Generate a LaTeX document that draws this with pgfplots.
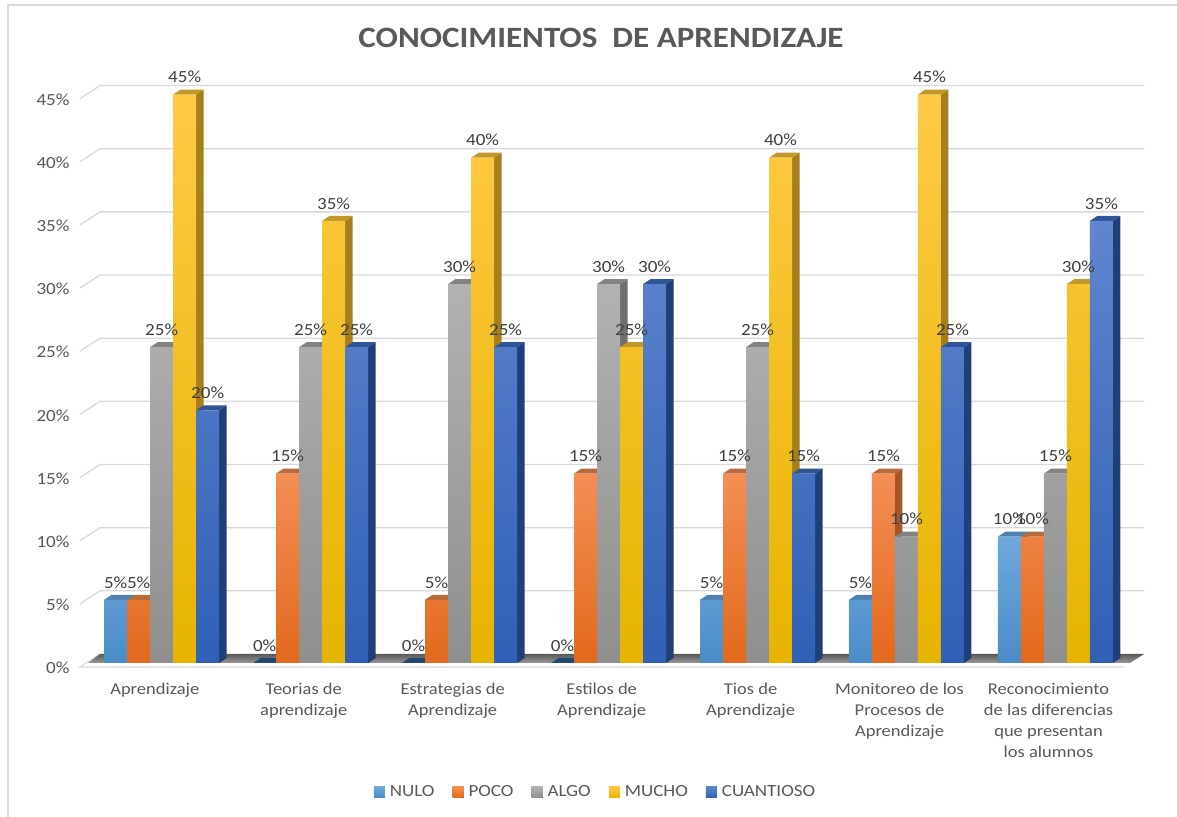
\documentclass[border=0pt]{standalone}
\usepackage{pgfplots}
\pgfplotsset{compat=1.18}
\usepackage{pgfplotstable}
\usepackage{fontspec}
\setmainfont[FakeStretch=1.12]{Carlito}
\definecolor{txt}{HTML}{595959}
\definecolor{lab}{HTML}{404040}
\definecolor{gridc}{HTML}{D9D9D9}
\definecolor{fA}{HTML}{5B9BD5}\definecolor{fB}{HTML}{F57C28}\definecolor{fC}{HTML}{A5A5A5}\definecolor{fD}{HTML}{FFC000}\definecolor{fE}{HTML}{4472C4}
\definecolor{tA}{HTML}{6FA8DE}\definecolor{tB}{HTML}{F48E55}\definecolor{tC}{HTML}{B2B2B2}\definecolor{tD}{HTML}{FFCA45}\definecolor{tE}{HTML}{5F85CF}
\definecolor{bA}{HTML}{4A8CC8}\definecolor{bB}{HTML}{E2691C}\definecolor{bC}{HTML}{8F8F8F}\definecolor{bD}{HTML}{E6B400}\definecolor{bE}{HTML}{2F60B5}
\definecolor{sA}{HTML}{3B6A96}\definecolor{sB}{HTML}{A5552A}\definecolor{sC}{HTML}{6F6F6F}\definecolor{sD}{HTML}{A67F1C}\definecolor{sE}{HTML}{1F3F78}
\definecolor{cA}{HTML}{4F80AE}\definecolor{cB}{HTML}{B96A3C}\definecolor{cC}{HTML}{828282}\definecolor{cD}{HTML}{C2982B}\definecolor{cE}{HTML}{2F5597}
\definecolor{sZ}{HTML}{23466E}\definecolor{cZ}{HTML}{23466E}
\pgfplotsset{sqlegend/.style={legend image code/.code={\fill[##1] (0pt,-5.5pt) rectangle (11pt,5.5pt);}}}
\pgfplotstableread{
g NULO POCO ALGO MUCHO CUANTIOSO
0 5 5 25 45 20
1 0 15 25 35 25
2 0 5 30 40 25
3 0 15 30 25 30
4 5 15 25 40 15
5 5 15 10 45 25
6 10 10 15 30 35
}\datatable
% depth faces of one bar: series, group, value, letter of the colours
\newcommand{\faces}[4]{%
  \pgfmathsetmacro\Lx{#2+(-50.6+23*#1)/148.95}%
  \pgfmathsetmacro\Rx{\Lx+23/148.95}%
  \pgfmathsetmacro\Dx{\Rx+7.5/148.95}%
  \pgfmathsetmacro\Ex{\Lx+7.5/148.95}%
  \pgfmathsetmacro\Tv{#3+0.396}%
  \addplot[forget plot,draw=none,fill=s#4] coordinates {(\Rx,0) (\Dx,0.396) (\Dx,\Tv) (\Rx,#3)} --cycle;
  \addplot[forget plot,draw=none,fill=c#4] coordinates {(\Lx,#3) (\Ex,\Tv) (\Dx,\Tv) (\Rx,#3)} --cycle;
}
\newcommand{\front}[3]{%
  \addplot[ybar,bar width=23pt,bar shift={#3pt},draw=none,
    top color=t#2,middle color=f#2,bottom color=b#2,
    sqlegend] table[x=g,y=#1] {\datatable};
}
\newcommand{\lbl}[2]{%
  \addplot[forget plot,draw=none,mark=none,
    nodes near coords={\pgfmathprintnumber[assume math mode=true]{\pgfplotspointmeta}\%},
    point meta=y,
    every node near coord/.style={anchor=center,yshift=17.5pt,font=\fontsize{17}{20}\selectfont,text=lab,inner sep=0pt}]
    table[x expr=\thisrow{g}+#2/148.95,y=#1] {\datatable};
}
\begin{document}
\begin{tikzpicture}[x=1pt,y=1pt]
\path[use as bounding box] (0,0) rectangle (1177,816);
\fill[white] (0,0) rectangle (1177,816);
\draw[gridc,line width=1.6pt] (8,-2) -- (8,816-5) -- (1177,816-5);
\node[font=\fontsize{29.5}{32}\selectfont\bfseries,text=txt] at (601,816-38) {CONOCIMIENTOS\ \ DE APRENDIZAJE};
\begin{axis}[
  at={(80pt,149pt)},anchor=south west,
  scale only axis,width=1064pt,height=582pt,
  xmin=-0.502,xmax=6.6413,ymin=-0.317,ymax=45.76,
  clip=false,
  axis line style={draw=none},
  major tick length=0pt,
  xtick={0,1,2,3,4,5,6},
  xticklabels={Aprendizaje,{Teorias de\\aprendizaje},{Estrategias de\\Aprendizaje},{Estilos de\\Aprendizaje},{Tios de\\Aprendizaje},{Monitoreo de los\\Procesos de\\Aprendizaje},{Reconocimiento\\de las diferencias\\que presentan\\los alumnos}},
  xticklabel style={align=center,font=\fontsize{16.5}{21}\selectfont,text=txt,yshift=-13pt},
  ytick={0,5,...,45},
  yticklabel={\pgfmathparse{int(\tick)}\pgfmathresult\%},
  yticklabel style={font=\fontsize{17}{20}\selectfont,text=txt,yshift=-5pt,xshift=-7pt},
  legend columns=5,
  legend style={at={(595.5pt-80pt,24pt-149pt)},anchor=center,draw=none,fill=none,font=\fontsize{17}{20}\selectfont,text=txt,
    /tikz/every odd column/.append style={column sep=3pt},
    /tikz/every even column/.append style={column sep=16pt}},
]
% grid: back wall and left-wall diagonals
\pgfplotsinvokeforeach{5,10,...,45}{
  \addplot[forget plot,gridc,line width=1.3pt] coordinates {(-0.502,#1-0.317) (-0.3677,#1+0.713) (6.6413,#1+0.713)};
}
\addplot[forget plot,gridc,line width=1.3pt] coordinates {(-0.3677,0.713) (-0.502,-0.317) (6.507,-0.317)};
% floor
\addplot[forget plot,draw=none,top color=black!65,bottom color=black!40] coordinates {(-0.4485,0) (-0.3677,0.713) (6.6413,0.713) (6.547,0)} --cycle;
% NULO
\faces{0}{0}{5}{A}\faces{0}{1}{0}{Z}\faces{0}{2}{0}{Z}\faces{0}{3}{0}{Z}\faces{0}{4}{5}{A}\faces{0}{5}{5}{A}\faces{0}{6}{10}{A}
\front{NULO}{A}{-39.1}
% POCO
\faces{1}{0}{5}{B}\faces{1}{1}{15}{B}\faces{1}{2}{5}{B}\faces{1}{3}{15}{B}\faces{1}{4}{15}{B}\faces{1}{5}{15}{B}\faces{1}{6}{10}{B}
\front{POCO}{B}{-16.1}
% ALGO
\faces{2}{0}{25}{C}\faces{2}{1}{25}{C}\faces{2}{2}{30}{C}\faces{2}{3}{30}{C}\faces{2}{4}{25}{C}\faces{2}{5}{10}{C}\faces{2}{6}{15}{C}
\front{ALGO}{C}{6.9}
% MUCHO
\faces{3}{0}{45}{D}\faces{3}{1}{35}{D}\faces{3}{2}{40}{D}\faces{3}{3}{25}{D}\faces{3}{4}{40}{D}\faces{3}{5}{45}{D}\faces{3}{6}{30}{D}
\front{MUCHO}{D}{29.9}
% CUANTIOSO
\faces{4}{0}{20}{E}\faces{4}{1}{25}{E}\faces{4}{2}{25}{E}\faces{4}{3}{30}{E}\faces{4}{4}{15}{E}\faces{4}{5}{25}{E}\faces{4}{6}{35}{E}
\front{CUANTIOSO}{E}{52.9}
\legend{NULO,POCO,ALGO,MUCHO,CUANTIOSO}
% value labels on top of all bars
\lbl{NULO}{-39.1}\lbl{POCO}{-16.1}\lbl{ALGO}{6.9}\lbl{MUCHO}{29.9}\lbl{CUANTIOSO}{52.9}
\end{axis}
\end{tikzpicture}
\end{document}
